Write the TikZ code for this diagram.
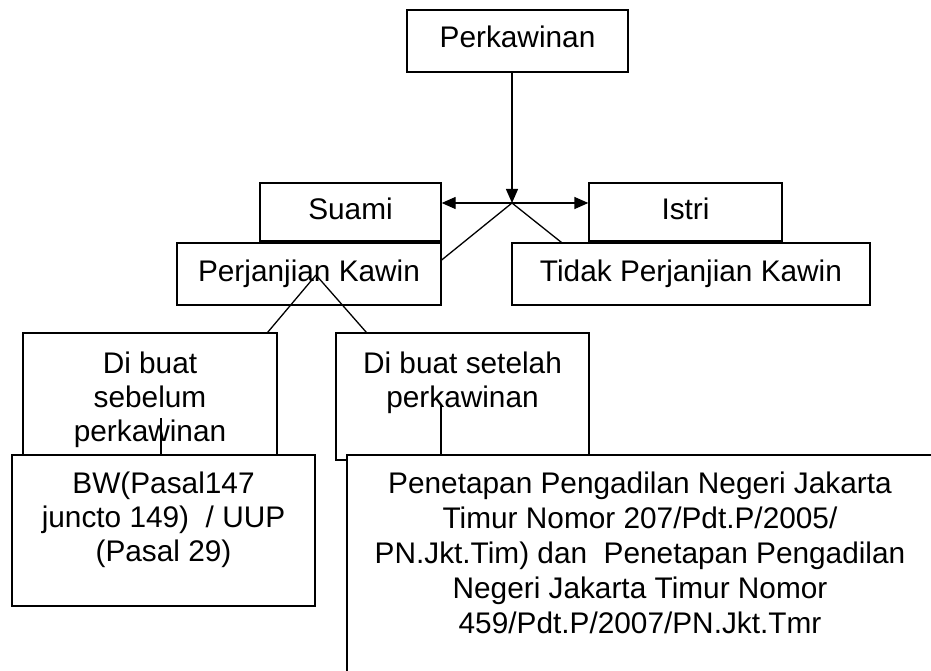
\documentclass[tikz,border=0pt]{standalone}
\usepackage{fontspec}
\setmainfont{Liberation Sans}
\usetikzlibrary{arrows.meta,positioning}

\begin{document}
\begin{tikzpicture}[x=1pt,y=-1pt,line width=1.3pt,
  font=\fontsize{29.8pt}{34pt}\selectfont,
  kotak/.style={draw,rectangle,fill=white,inner sep=0pt,text height=22pt,text depth=8pt},
  teks/.style={inner sep=0pt,align=center,anchor=north},
  panah/.style={-{Triangle[length=14pt,width=12pt]}}]

\useasboundingbox (0,0) rectangle (931,671);
\clip (0,0) rectangle (931,671);

\node[kotak,minimum width=221pt,minimum height=62pt]    (perk)  at (517.5,41)   {Perkawinan};
\node[kotak,minimum width=181pt,minimum height=58pt]    (suami) at (350.5,212)  {Suami};
\node[kotak,minimum width=193pt,minimum height=58pt]    (istri) at (685.5,212)  {Istri};
\node[kotak,minimum width=264pt,minimum height=62pt]    (pk)    at (309,274)    {Perjanjian Kawin};
\node[kotak,minimum width=358pt,minimum height=62pt]    (tpk)   at (691,274)    {Tidak Perjanjian Kawin};

\node[kotak,minimum width=254pt,minimum height=122pt]   (seb)   at (150,394)    {};
\node[kotak,minimum width=253pt,minimum height=127pt]   (set)   at (462.5,396.5) {};
\node[kotak,minimum width=303pt,minimum height=151pt]   (bw)    at (163.5,530.5) {};
\node[kotak,minimum width=586pt,minimum height=245pt]   (pen)   at (640,577.5)  {};

\node[teks] (sebT1) at (150,351)   {Di buat\\sebelum\\perkawinan};
\node[teks] (setT1) at (462.5,351) {Di buat setelah\\perkawinan};
\node[teks] (bwT1)  at (163.5,471) {BW(Pasal147\\juncto 149)~~/ UUP\\(Pasal 29)};
\node[teks,font=\fontsize{29.8pt}{35pt}\selectfont] (penT1) at (640,471)
  {Penetapan Pengadilan Negeri Jakarta\\Timur Nomor 207/Pdt.P/2005/\\PN.Jkt.Tim) dan~~Penetapan Pengadilan\\Negeri Jakarta Timur Nomor\\459/Pdt.P/2007/PN.Jkt.Tmr};

\coordinate (jct)    at (512,203);
\coordinate (apex)   at (316,275);
\coordinate (sebIn)  at (161,418);
\coordinate (setIn)  at (441,404);
\coordinate (perkB)  at (perk.south -| jct);
\coordinate (suamiR) at (jct -| suami.east);
\coordinate (istriL) at (jct -| istri.west);
\coordinate (pkR)    at ([yshift=14pt]pk.east);
\coordinate (tpkT)   at ([xshift=50pt]tpk.north west);
\coordinate (sebT)   at ([xshift=-10pt]seb.north east);
\coordinate (setT)   at ([xshift=31pt]set.north west);
\coordinate (bwT)    at (sebIn |- bw.north);
\coordinate (penT)   at (setIn |- pen.north);

\foreach \f/\t in {% start/end
	 perkB/jct,
	 jct/suamiR,
	 jct/istriL}
	\path[panah]  (\f) edge (\t);

\foreach \f/\t in {% start/end
	 jct/pkR,
	 jct/tpkT,
	 apex/sebT,
	 apex/setT,
	 sebIn/bwT,
	 setIn/penT}
	\path[-]  (\f) edge (\t);

\end{tikzpicture}
\end{document}
